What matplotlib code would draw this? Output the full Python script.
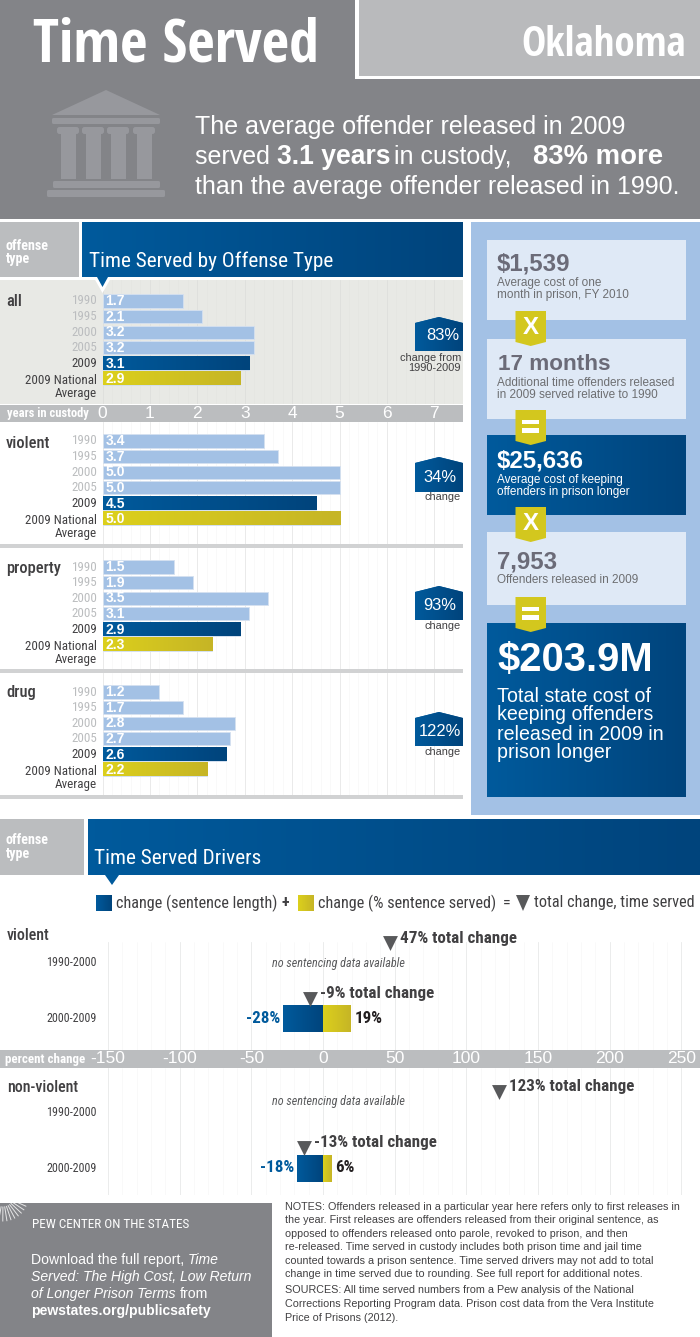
import numpy as np
import matplotlib
matplotlib.use("Agg")
import matplotlib.pyplot as plt
from matplotlib.colors import LinearSegmentedColormap
from matplotlib.patches import FancyBboxPatch, Polygon, Rectangle

plt.rcParams["axes.unicode_minus"] = False

# data
years = ["1990", "1995", "2000", "2005", "2009", "2009 National\nAverage"]
all_vals = [1.7, 2.1, 3.2, 3.2, 3.1, 2.9]
violent_vals = [3.4, 3.7, 5.0, 5.0, 4.5, 5.0]
property_vals = [1.5, 1.9, 3.5, 3.1, 2.9, 2.3]
drug_vals = [1.2, 1.7, 2.8, 2.7, 2.6, 2.2]
year_ticks = [0, 1, 2, 3, 4, 5, 6, 7]
pct_ticks = [-150, -100, -50, 0, 50, 100, 150, 200, 250]

drv_periods = ["1990-2000", "2000-2009"]
violent_total = [47, -9]
violent_sentence = -28
violent_served = 19
nonviolent_total = [123, -13]
nonviolent_sentence = -18
nonviolent_served = 6

NARROW = ["Roboto Condensed", "Liberation Sans"]
TITLE = ["Open Sans Condensed", "Roboto Condensed"]
SANS = ["Liberation Sans", "DejaVu Sans"]
GRAY = "#838488"
LGRAY = "#BBBDBF"
LBLUE = "#A3C1E5"
PALE = "#DFE9F6"
DARK = "#414042"
BLUE0, BLUE1 = "#005A9C", "#00447C"
YEL0, YEL1 = "#DCD01C", "#C6B526"

fig = plt.figure(figsize=(7, 13.37), dpi=100, facecolor="white")
bg = fig.add_axes([0, 0, 1, 1], zorder=0)
top = fig.add_axes([0, 0, 1, 1], zorder=5)
for a in (bg, top):
    a.set_xlim(0, 700)
    a.set_ylim(1337, 0)
    a.axis("off")
    a.patch.set_alpha(0)


def rect(x0, y0, x1, y1, c, ax=bg, z=1):
    ax.add_patch(Rectangle((x0, y0), x1 - x0, y1 - y0, fc=c, ec="none", zorder=z))


def rrect(x0, y0, x1, y1, c, ax=bg, z=2, r=1.5):
    ax.add_patch(FancyBboxPatch((x0 + r, y0 + r), x1 - x0 - 2 * r, y1 - y0 - 2 * r,
                                boxstyle=f"round,pad={r},rounding_size={r}", fc=c, ec="none", zorder=z))


def grad(ax, x0, y0, x1, y1, c0, c1, z=2):
    cm = LinearSegmentedColormap.from_list("g", [c0, c1])
    return ax.imshow(np.linspace(0, 1, 64).reshape(1, -1), cmap=cm, aspect="auto",
                     extent=(x0, x1, y1, y0), zorder=z, interpolation="bilinear")


def poly(pts, c, ax=top, z=3, ec="none", lw=0):
    p = Polygon(pts, closed=True, fc=c, ec=ec, lw=lw, zorder=z)
    ax.add_patch(p)
    return p


def txt(x, y, s, px, c="white", fam=NARROW, w="normal", ha="left", st="normal", ax=top, **kw):
    return ax.text(x, y, s, fontsize=px * 0.72, color=c, family=fam, weight=w, ha=ha,
                   va="center", style=st, zorder=6, **kw)


def rich(x, y, parts, px, c="white"):
    # runs of text with different weight on one line
    r = fig.canvas.get_renderer()
    for s, w, st in parts:
        t = txt(x, y, s, px, c, SANS, w, st=st)
        t.set_va("baseline")
        x += t.get_window_extent(r).width


def panel_ax(y0, y1, xlim, x0=0, x1=463):
    ax = fig.add_axes([x0 / 700, 1 - y1 / 1337, (x1 - x0) / 700, (y1 - y0) / 1337], zorder=2)
    ax.set_xlim(*xlim)
    ax.set_yticks([])
    for s in ax.spines.values():
        s.set_visible(False)
    return ax


# header
rect(0, 0, 700, 219, GRAY)
rect(355, 0, 700, 79, "white")
rect(359, 0, 700, 76, "#B9BABC")
txt(33, 46, "Time Served", 60, "white", TITLE, "bold")
txt(686, 46, "Oklahoma", 41, "white", TITLE, "bold", ha="right")

# courthouse icon
ic = "#97989D"
poly([(52, 115), (106, 90), (160, 115)], ic, bg, 2)
rrect(52, 118, 160, 124, ic)
for cx in (57, 82, 107, 133):
    rrect(cx, 127, cx + 22, 134, ic, r=2.5)
    rect(cx + 4, 132, cx + 19, 179, ic, bg, 2)
rrect(53, 181, 160, 188, ic)
rrect(47, 190, 165, 197, ic)

rich(195, 134, [("The average offender released in 2009", "normal", "normal")], 25)
rich(195, 164, [("served ", "normal", "normal")], 25)
rich(277, 164, [("3.1 years", "bold", "normal")], 26.5)
rich(394, 164, [("in custody,", "normal", "normal")], 25)
rich(533, 164, [("83% more", "bold", "normal")], 27.5)
rich(195, 194, [("than the average offender released in 1990.", "normal", "normal")], 25)

# first section header
rect(0, 222, 79, 277, LGRAY)
txt(6, 246, "offense", 14, "white", NARROW, "bold")
txt(6, 259, "type", 14, "white", NARROW, "bold")
grad(bg, 82, 222, 463, 277, BLUE0, BLUE1)
txt(89, 261, "Time Served by Offense Type", 21.3, "white", NARROW)
rect(0, 280, 463, 404, "#E8E9E5")
poly([(94, 278), (111, 278), (102.5, 293)], "white", top, 3)
poly([(97, 277), (108, 277), (102.5, 287)], BLUE0, top, 4)

# year bars
PX0, PXU = 102.5, 47.4
bar_xlim = ((0 - PX0) / PXU, (463 - PX0) / PXU)
ROW = 15.55


def year_panel(vals, y0, y1, first_y, label, label_y, pct, peak_y, bot_y, pct_x, pct_y, note, note_y, grid):
    ax = panel_ax(y0, y1, bar_xlim)
    ax.patch.set_alpha(0)
    ax.set_xticks(year_ticks)
    ax.set_xticks(np.arange(0, 7.6, 0.2), minor=True)
    ax.tick_params(which="both", length=0, labelbottom=False)
    ax.grid(True, axis="x", which="major", color=grid[0], lw=0.6, zorder=0)
    ax.grid(True, axis="x", which="minor", color=grid[1], lw=0.4, zorder=0)
    ax.set_axisbelow(True)
    ylist = np.arange(len(vals))
    ax.barh(ylist, vals, height=0.84, color=LBLUE, edgecolor="#D5E1F0", lw=0.6, zorder=2)
    for i in ylist:
        if i >= 4:
            c0, c1 = (BLUE0, BLUE1) if i == 4 else (YEL0, YEL1)
            grad(ax, 0, i - 0.42, vals[i], i + 0.42, c0, c1, 3)
        ax.text(0.06, i + 0.02, f"{vals[i]:.1f}", color="white", fontsize=10,
                family=SANS, weight="bold", va="center", zorder=4)
    ax.set_xlim(*bar_xlim)
    ax.set_ylim((y1 - first_y) / ROW, (y0 - first_y) / ROW)
    for i, yr in enumerate(years):
        col = LGRAY if i < 4 else DARK
        off = 0.52 if i == 5 else 0
        ax.text(-0.11, i + off, yr, color=col, fontsize=9.4, family=NARROW, ha="right",
                va="center", linespacing=0.95, zorder=4)
    txt(6, label_y, label, 16.5, DARK, NARROW, 500)
    shoulder = peak_y + 6
    p = poly([(415, shoulder), (439, peak_y), (463, shoulder), (463, bot_y), (415, bot_y)], BLUE0)
    im = grad(top, 415, peak_y, 463, bot_y, BLUE0, BLUE1, 3.5)
    im.set_clip_path(p)
    txt(pct_x, pct_y, pct, 16.5, "white", SANS, ha="center")
    txt(461, note_y, note, 11, DARK, SANS, ha="right", linespacing=1.0)


g_all = ("#DEDFDC", "#E3E4E0")
g_wht = ("#E6E7E7", "#F5F5F5")
year_panel(all_vals, 280, 404, 301, "all", 302, "83%", 317, 351, 443, 336, "change from\n1990-2009", 363, g_all)
year_panel(violent_vals, 422, 544, 441, "violent", 443, "34%", 457, 492, 440, 478, "change", 497, g_wht)
rect(0, 544, 463, 548, "#D1D2D3", top, 3)
year_panel(property_vals, 548, 669, 567, "property", 568, "93%", 586, 620, 440, 606, "change", 626, g_wht)
rect(0, 669, 463, 673, "#D1D2D3", top, 3)
year_panel(drug_vals, 673, 795, 692, "drug", 693, "122%", 712, 746, 440, 732, "change", 752, g_wht)
rect(0, 795, 463, 799, "#D1D2D3", top, 3)

# years strip
sax = panel_ax(405, 422, bar_xlim)
sax.set_facecolor(LGRAY)
sax.set_xticks(year_ticks)
sax.tick_params(length=0, pad=-11.5, labelsize=12.5, labelcolor="white", direction="in")
for lab in sax.get_xticklabels():
    lab.set_family(SANS)
txt(7, 413, "years in custody", 12.5, "white", NARROW, "bold")

# side column
rect(471, 222, 700, 815, LBLUE)
for y0, y1 in [(240, 320), (339, 419), (532, 605)]:
    rect(487, y0, 686, y1, PALE)
grad(bg, 487, 435, 686, 515, BLUE0, BLUE1)
grad(bg, 487, 623, 686, 797, BLUE0, BLUE1)

stat = "#6B6B78"
grey_txt = "#6D6E71"
txt(497, 264, "$1,539", 24, stat, SANS, "bold")
txt(497, 283, "Average cost of one", 11.8, grey_txt, SANS)
txt(497, 295, "month in prison, FY 2010", 11.8, grey_txt, SANS)
txt(498, 364, "17 months", 22.5, stat, SANS, "bold")
txt(497, 383, "Additional time offenders released", 11.8, grey_txt, SANS)
txt(497, 395, "in 2009 served relative to 1990", 11.8, grey_txt, SANS)
txt(497, 461, "$25,636", 24, "white", SANS, "bold")
txt(497, 480, "Average cost of keeping", 11.8, "white", SANS)
txt(497, 492, "offenders in prison longer", 11.8, "white", SANS)
txt(497, 562, "7,953", 24, stat, SANS, "bold")
txt(497, 580, "Offenders released in 2009", 11.8, grey_txt, SANS)
txt(497, 660, "$203.9M", 40, "white", SANS, "bold")
for yy, s in zip((697, 715, 734, 752), ("Total state cost of", "keeping offenders",
                                         "released in 2009 in", "prison longer")):
    txt(497, yy, s, 19.6, "white", SANS)

for y0, sym in [(311, "x"), (410, "="), (507, "x"), (597, "=")]:
    y1 = y0 + 31
    poly([(515.5, y0), (546, y0), (546, y1), (530.7, y1 + 4), (515.5, y1)], "#D3C71E")
    if sym == "x":
        txt(530.7, y0 + 17, "X", 24, "white", SANS, "bold", ha="center")
    else:
        rect(522, y0 + 10, 539, y0 + 14, "white", top, 4)
        rect(522, y0 + 18, 539, y0 + 23, "white", top, 4)

# second section header
rect(0, 819, 84, 875, LGRAY)
txt(6, 840, "offense", 14, "white", NARROW, "bold")
txt(6, 854, "type", 14, "white", NARROW, "bold")
grad(bg, 88, 819, 700, 875, BLUE0, BLUE1)
txt(94, 858, "Time Served Drivers", 21.3, "white", NARROW)
poly([(105, 875), (119, 875), (112, 885)], BLUE0)

# legend
grad(top, 96, 895, 112, 911, BLUE0, BLUE1, 4)
grad(top, 298, 895, 314, 911, YEL0, YEL1, 4)
poly([(516, 895), (530, 895), (523, 911)], "#58595B")
txt(116, 903, "change (sentence length)", 16.3, DARK)
txt(282, 903, "+", 16, DARK, w="bold")
txt(318, 903, "change (% sentence served)", 16.3, DARK)
txt(503, 903, "=", 16, DARK)
txt(534, 903, "total change, time served", 16.3, DARK)

# drivers panels
PCT0, PCTU = 323.0, 1.433
pct_xlim = ((0 - PCT0) / PCTU, (700 - PCT0) / PCTU)


def driver_panel(y0, y1, row0_y, row_h, label, label_y, totals, sent, served, nodata_y):
    ax = panel_ax(y0, y1, pct_xlim, 0, 700)
    ax.patch.set_alpha(0)
    ax.set_xticks(pct_ticks)
    ax.set_xticks(np.arange(-150, 251, 10), minor=True)
    ax.tick_params(which="both", length=0, labelbottom=False)
    ax.grid(True, axis="x", which="major", color="#E8E9E9", lw=0.6, zorder=0)
    ax.grid(True, axis="x", which="minor", color="#F6F6F6", lw=0.4, zorder=0)
    ax.set_axisbelow(True)
    hgt = 27 / row_h
    ax.barh([1], [sent], height=hgt, color=BLUE0)
    ax.barh([1], [served], height=hgt, color=YEL0)
    grad(ax, sent, 1 - hgt / 2, 0, 1 + hgt / 2, BLUE0, BLUE1, 3)
    grad(ax, 0, 1 - hgt / 2, served, 1 + hgt / 2, YEL0, YEL1, 3)
    ax.scatter(totals, [0 - 20 / row_h, 1 - 20 / row_h], marker="v", s=115, color="#58595B",
               linewidths=0, zorder=4, clip_on=False)
    ax.set_xlim(*pct_xlim)
    ax.set_ylim((y1 - row0_y) / row_h, (y0 - row0_y) / row_h)
    for i, p in enumerate(drv_periods):
        txt(97, row0_y + i * row_h, p, 12, DARK, ha="right")
    for i, t in enumerate(totals):
        tx = PCT0 + t * PCTU + 10
        ty = row0_y + i * row_h - 25
        txt(tx, ty, f"{t}% total change", 17, DARK, w="bold")
    txt(338, nodata_y, "no sentencing data available", 12.1, "#58595B", st="italic", ha="center")
    sy = row0_y + row_h
    txt(PCT0 + sent * PCTU - 3, sy, f"{sent}%", 17, BLUE0, w="bold", ha="right")
    txt(PCT0 + served * PCTU + 4, sy, f"{served}%", 17, "#231F20", w="bold")
    txt(7, label_y, label, 16, DARK, w=500)


driver_panel(942, 1050, 963, 55.5, "violent", 936, violent_total, violent_sentence, violent_served, 963)
driver_panel(1068, 1195, 1112, 56, "non-violent", 1088, nonviolent_total, nonviolent_sentence,
             nonviolent_served, 1102)

pax = panel_ax(1050, 1068, pct_xlim, 0, 700)
pax.set_facecolor(LGRAY)
pax.set_xticks(pct_ticks)
pax.tick_params(length=0, pad=-12.2, labelsize=12.5, labelcolor="white", direction="in")
for lab in pax.get_xticklabels():
    lab.set_family(SANS)
txt(5, 1059, "percent change", 13, "white", NARROW, "bold")

# footer
rect(0, 1203, 272, 1337, GRAY)
for ang in np.linspace(-5, -100, 11):
    a = np.radians(ang)
    top.plot([3 + 11 * np.cos(a), 3 + 25 * np.cos(a)], [1196 - 11 * np.sin(a), 1196 - 25 * np.sin(a)],
             color="white", lw=0.7, alpha=0.8, zorder=4)
txt(32, 1225, "PEW CENTER ON THE STATES", 13.3, "white", NARROW)
rich(31, 1264, [("Download the full report, ", "normal", "normal"), ("Time", "normal", "italic")], 14)
rich(31, 1281, [("Served: The High Cost, Low Return", "normal", "italic")], 14)
rich(31, 1298, [("of Longer Prison Terms ", "normal", "italic"), ("from", "normal", "normal")], 14)
rich(31, 1315, [("pewstates.org/publicsafety", "bold", "normal")], 14)

notes = ["NOTES: Offenders released in a particular year here refers only to first releases in",
         "the year. First releases are offenders released from their original sentence, as",
         "opposed to offenders released onto parole, revoked to prison, and then",
         "re-released. Time served in custody includes both prison time and jail time",
         "counted towards a prison sentence. Time served drivers may not add to total",
         "change in time served due to rounding. See full report for additional notes."]
for i, s in enumerate(notes):
    txt(285, 1207 + i * 13.4, s, 10.8, "#414042", SANS)
sources = ["SOURCES: All time served numbers from a Pew analysis of the National",
           "Corrections Reporting Program data. Prison cost data from the Vera Institute",
           "Price of Prisons (2012)."]
for i, s in enumerate(sources):
    txt(285, 1290 + i * 14, s, 10.8, "#414042", SANS)

for a in (bg, top):
    a.set_xlim(0, 700)
    a.set_ylim(1337, 0)
fig.savefig("out.png", dpi=100, facecolor="white")
